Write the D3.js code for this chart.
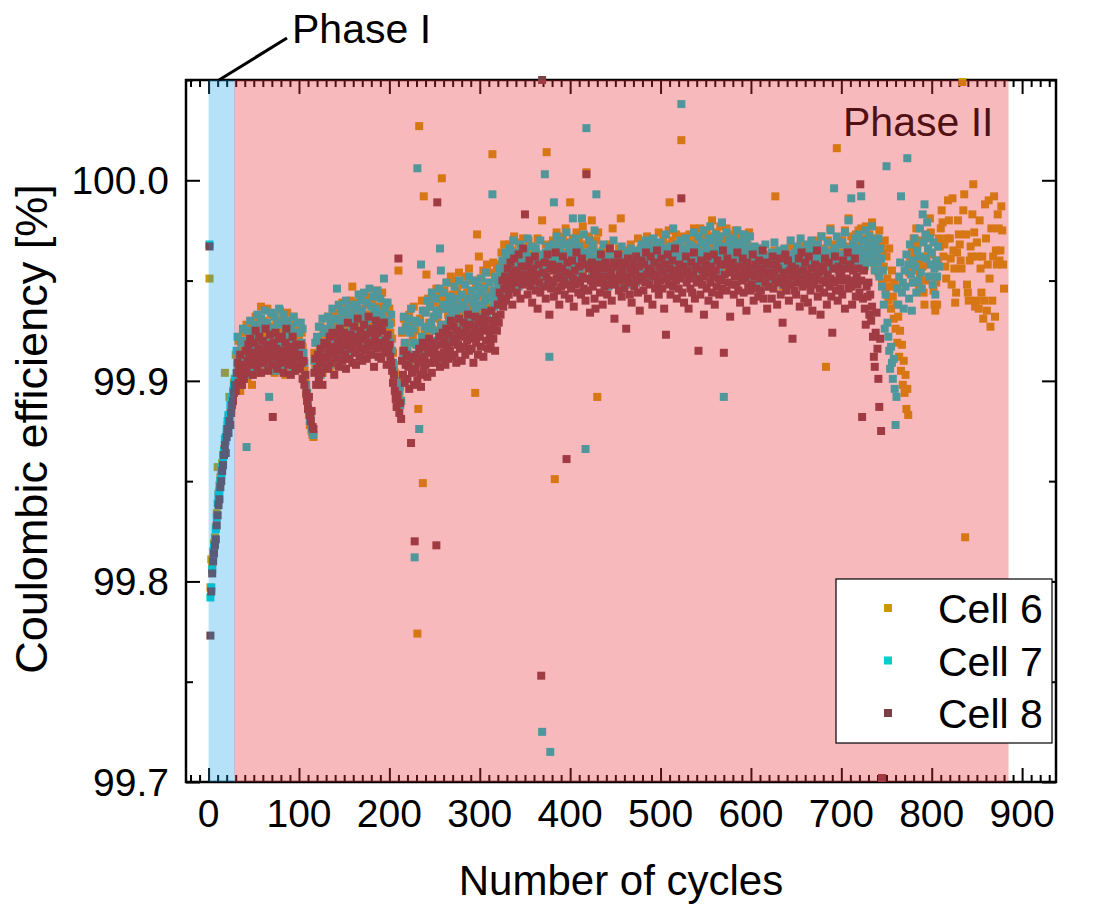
<!DOCTYPE html>
<html>
<head>
<meta charset="utf-8">
<script src="https://cdn.jsdelivr.net/npm/d3@7"></script>
<style>
  body { margin: 0; background: #fff; }
  text { font-family: "Liberation Sans", Arial, sans-serif; fill: #000; }
</style>
</head>
<body>
<div id="chart"></div>
<script>
// Coulombic efficiency per cycle, stored as (CE - 99.7 %) in units of 0.001 %.
// The first entry of each array is cycle 1, one entry per cycle after that.
const firstCycle = 1;
const ceBase = 99.7;

const cell6 = [
  251,97,111,108,115,119,122,127,134,157,144,148,152,154,159,163,166,204,170,174,178,182,192,184,188,191,194,199,201,
  213,199,208,220,204,195,215,210,224,202,
  207,219,228,201,215,210,226,213,198,222,
  225,209,232,214,220,204,229,218,237,211,
  216,230,207,224,213,236,221,208,227,219,
  233,212,223,204,218,230,210,226,215,235,
  222,209,231,217,226,203,220,234,212,225,
  214,228,205,221,232,211,219,226,207,223,
  220,228,212,224,217,210,205,199,193,190,
  186,183,178,181,175,173,172,214,206,219,
  208,221,200,216,227,211,204,223,215,209,
  225,211,232,217,206,228,219,213,234,221,
  216,229,208,235,224,214,231,220,239,226,
  232,218,227,211,236,223,215,240,226,247,
  221,234,214,239,229,218,232,225,243,220,
  236,223,231,215,242,227,233,219,238,225,
  222,240,230,217,235,226,245,221,233,237,
  231,218,244,228,223,239,226,234,216,230,
  236,224,229,221,214,208,204,199,195,200,
  255,193,197,190,224,215,231,218,227,210,
  226,213,233,219,207,228,222,237,211,225,
  218,74,186,327,231,215,240,149,292,224,
  235,253,222,241,229,218,237,226,244,232,
  239,225,246,231,220,243,236,228,301,241,
  227,245,238,222,249,233,240,229,252,236,
  243,231,250,238,226,245,234,254,229,241,
  233,248,240,227,252,236,244,231,256,239,
  245,230,250,236,241,194,247,273,233,262,
  236,251,243,229,255,240,247,234,258,242,
  249,237,254,244,313,259,241,251,238,256,
  247,258,252,243,264,255,249,268,257,261,
  255,263,250,268,258,247,265,257,272,253,
  262,251,258,269,254,264,249,260,271,256,
  250,266,258,253,270,259,248,263,256,267,
  258,249,264,255,271,257,251,262,254,280,
  256,263,252,268,314,255,261,266,250,259,
  264,270,257,151,262,274,259,266,253,268,
  261,255,272,264,258,276,263,252,269,260,
  289,266,258,271,262,255,268,274,257,263,
  270,259,265,253,277,262,256,268,304,261,
  257,272,264,259,280,254,266,261,252,270,
  192,274,256,262,250,258,265,253,261,248,
  259,255,263,250,268,257,252,276,260,254,
  249,262,256,253,266,251,281,258,247,263,
  257,252,265,259,248,261,255,268,253,260,
  264,256,250,262,258,271,254,259,266,252,
  261,268,255,263,258,272,260,253,266,259,
  255,264,270,257,262,253,268,261,274,258,
  266,259,253,271,262,257,268,254,263,275,
  289,264,258,270,261,255,267,273,259,264,
  268,257,263,320,260,272,255,266,261,270,
  258,265,273,262,256,269,260,276,264,257,
  271,262,267,259,276,264,270,258,273,266,
  263,275,260,268,272,257,266,280,262,269,
  267,259,274,264,270,261,277,258,266,272,
  262,270,257,276,265,260,273,263,268,256,
  271,264,259,275,262,268,257,272,265,261,
  266,273,258,264,270,255,268,262,274,260,
  257,263,251,260,266,254,261,248,259,264,
  253,260,266,249,258,255,263,250,262,256,
  259,254,248,262,256,251,265,292,257,260,
  252,258,264,255,261,247,256,263,253,259,
  262,256,251,258,267,253,260,255,263,250,
  258,264,256,262,253,268,259,255,266,261,
  255,262,267,257,264,251,260,269,256,263,
  265,258,253,262,270,256,264,254,272,260,
  257,266,261,207,263,270,258,264,276,261,
  265,259,268,262,256,316,263,257,270,264,
  261,270,264,258,275,262,267,259,281,265,
  263,272,260,269,264,257,273,266,261,275,
  268,259,276,265,271,262,258,277,264,269,
  262,273,266,260,279,264,270,256,271,265,
  261,254,275,259,268,249,264,257,270,245,
  262,251,240,266,247,236,255,242,231,249,
  226,238,219,232,212,225,205,218,198,210,
  194,203,186,196,183,254,262,258,266,249,
  271,263,255,276,268,259,247,253,261,270,
  257,244,238,250,262,273,266,258,281,274,
  263,252,245,238,235,249,238,260,271,267,
  276,285,279,262,268,257,251,271,290,280,
  271,261,248,291,265,256,239,244,264,280,
  273,268,260,256,349,285,293,122,273,248,
  244,240,260,267,262,283,298,274,237,240,
  269,262,236,280,256,244,262,231,240,288,
  271,235,258,290,251,227,276,240,262,292,
  232,265,258,283,276,260,265,287,275,258,
  246
];

const cell7 = [
  268,92,97,106,112,117,119,126,132,139,143,145,150,153,157,162,165,171,172,176,180,183,181,188,186,192,195,197,200,
  201,215,222,206,212,198,219,209,226,204,
  220,211,167,225,207,218,230,203,216,223,
  212,228,206,221,233,215,224,209,231,218,
  227,213,235,220,208,229,216,192,225,234,
  214,226,210,232,219,205,228,222,236,212,
  229,217,207,233,221,225,211,230,215,224,
  210,227,221,205,232,216,224,208,229,218,
  224,215,229,219,226,214,209,203,198,194,
  189,185,180,182,176,174,173,210,219,205,
  222,209,227,214,203,219,231,211,224,207,
  226,213,232,218,208,229,221,236,214,225,
  217,231,246,222,238,213,228,235,219,230,
  234,220,240,215,229,237,224,218,233,227,
  221,238,230,214,236,225,243,219,232,240,
  235,222,244,228,216,239,231,225,246,220,
  237,226,242,233,219,236,228,245,223,234,
  241,225,232,220,251,236,218,230,239,222,
  228,219,233,215,209,205,200,196,193,198,
  192,195,188,190,225,214,232,219,210,227,
  215,231,208,224,236,213,226,219,112,230,
  218,306,211,176,229,258,222,235,214,227,
  234,221,240,226,215,237,229,244,220,232,
  225,241,235,219,233,246,266,255,228,238,
  244,227,236,249,223,238,231,242,220,235,
  239,228,247,233,222,241,236,250,226,237,
  243,230,238,224,248,235,241,229,252,233,
  227,245,239,231,250,236,242,226,247,238,
  244,232,251,237,228,246,240,254,233,242,
  235,249,241,230,293,245,237,252,243,232,
  249,241,256,247,238,260,252,245,264,255,
  256,262,251,266,259,248,263,270,255,260,
  253,264,258,247,261,268,255,250,263,257,
  265,252,259,271,256,249,262,258,267,254,
  260,251,266,257,263,248,259,270,255,25,
  261,253,303,264,258,250,267,212,15,262,
  259,268,289,256,264,272,260,253,266,261,
  270,257,263,255,268,262,274,259,251,265,
  262,269,256,281,264,258,271,253,266,260,
  267,255,262,281,259,273,264,166,326,257,
  263,270,258,265,252,268,261,275,256,293,
  260,253,264,257,249,262,255,268,251,259,
  254,261,247,258,265,252,260,256,270,250,
  257,263,251,259,246,262,255,267,253,258,
  261,250,256,264,252,259,248,266,255,260,
  253,262,257,249,265,256,261,251,258,268,
  259,266,254,262,270,257,263,251,267,260,
  256,264,271,258,252,265,260,268,255,262,
  269,257,263,254,266,261,273,258,252,264,
  260,267,255,262,276,258,264,253,268,261,
  257,265,270,338,259,266,254,263,271,258,
  264,256,268,261,252,267,259,274,262,255,
  266,260,272,257,264,269,258,275,263,261,
  268,256,265,271,260,277,262,258,270,264,
  259,273,266,261,268,255,272,263,279,260,
  192,267,262,274,258,265,270,261,256,268,
  263,271,257,266,260,275,264,252,269,262,
  267,258,273,263,255,270,261,266,259,272,
  258,264,252,260,267,255,262,249,257,263,
  254,261,266,250,259,256,268,253,260,247,
  262,257,251,264,255,260,269,252,258,263,
  250,259,265,256,262,248,257,266,254,261,
  257,263,253,260,270,255,251,262,258,264,
  260,267,255,263,258,271,262,256,265,259,
  254,262,268,258,264,252,261,270,257,263,
  266,259,253,262,268,257,264,255,272,261,
  258,265,260,254,263,269,256,262,275,260,
  264,257,296,266,259,272,261,255,268,262,
  260,269,263,257,274,261,266,258,280,264,
  262,291,259,268,263,256,271,265,260,273,
  266,258,292,264,270,261,257,275,263,268,
  261,272,265,259,277,263,268,255,270,264,
  259,271,252,266,261,247,255,238,226,243,
  307,229,222,215,206,217,209,201,211,196,
  178,192,246,238,252,259,292,244,249,236,
  255,247,263,311,258,241,268,253,235,260,
  249,271,257,244,265,250,262,276,254,246,
  283,269,288,273,261,279,266,252,271,258,
  264,248,269,256,243,260,252,267,257
];

const cell8 = [
  267,73,95,104,110,114,118,121,128,133,138,141,147,150,155,158,163,168,164,172,176,174,180,178,184,188,190,194,198,
  195,204,209,199,206,213,203,198,208,201,
  207,215,204,210,218,212,221,208,214,203,
  211,219,225,214,207,216,222,210,204,213,
  220,209,215,226,218,211,205,217,223,214,
  208,182,219,212,224,216,206,213,221,209,
  215,222,210,204,213,219,226,214,208,217,
  211,203,216,222,209,214,205,218,212,207,
  213,206,218,209,201,210,198,203,194,190,
  186,192,183,180,185,177,176,204,211,198,
  206,213,201,209,216,204,198,211,219,207,
  212,218,206,214,222,209,217,224,213,203,
  216,223,211,219,207,226,215,221,210,218,
  224,213,206,220,229,217,211,223,216,209,
  219,227,214,208,222,231,218,212,225,216,
  210,221,228,215,223,211,219,232,217,224,
  213,226,218,207,221,230,216,224,212,227,
  219,211,225,217,229,214,220,208,223,215,
  218,212,209,205,199,203,195,191,187,193,
  261,184,189,181,210,203,215,199,208,213,
  201,207,196,212,169,204,211,198,120,206,
  213,200,209,216,203,197,211,219,205,212,
  208,217,202,214,221,209,215,204,219,212,
  216,209,118,289,213,222,207,218,211,224,
  214,220,208,226,217,211,223,215,230,212,
  219,227,213,221,209,225,218,231,216,222,
  210,224,229,217,213,226,220,233,215,223,
  228,216,221,209,226,232,219,224,213,229,
  222,217,231,225,212,227,234,220,226,216,
  230,223,218,235,226,221,229,215,232,225,
  238,229,244,233,241,250,237,246,252,240,
  248,256,243,251,259,246,238,253,261,249,
  255,244,250,263,252,241,257,248,266,253,
  283,249,257,243,252,260,247,254,239,256,
  250,262,245,253,236,258,249,244,53,350,
  254,247,259,241,252,263,250,233,256,246,
  258,249,242,255,264,251,245,257,238,252,
  247,256,262,250,243,254,161,259,248,241,
  253,246,260,251,237,255,248,264,250,244,
  257,249,243,261,252,246,258,240,303,251,
  245,256,234,250,259,247,253,241,236,255,
  249,258,252,244,263,250,238,256,247,259,
  252,243,257,248,266,254,240,251,259,231,
  248,257,251,263,245,253,259,242,255,250,
  246,258,226,252,261,249,243,256,239,253,
  259,247,255,262,250,244,257,235,252,260,
  251,245,258,249,264,253,241,256,248,262,
  255,238,252,259,246,253,265,249,243,257,
  250,261,246,254,236,258,223,251,263,248,
  256,243,252,260,247,255,266,250,241,254,
  246,258,251,291,244,257,239,253,262,249,
  255,236,251,246,259,244,253,264,241,257,
  249,256,215,251,243,260,248,255,233,252,
  258,246,262,240,254,249,257,244,252,263,
  238,255,247,260,251,243,258,250,246,265,
  214,253,258,245,261,249,254,232,256,248,
  259,243,252,256,248,264,245,253,239,257,
  250,261,244,254,251,235,259,247,256,245,
  253,248,263,240,252,258,246,255,242,260,
  251,245,256,265,241,253,249,259,236,254,
  247,258,252,241,262,246,254,250,258,238,
  256,249,261,243,251,229,254,248,263,245,
  251,260,240,255,248,257,221,252,245,256,
  243,254,249,261,237,251,264,247,255,241,
  259,250,253,239,262,248,245,256,235,252,
  248,258,251,265,242,254,246,233,257,250,
  255,244,261,249,238,253,259,247,251,242,
  224,256,249,262,245,250,240,257,253,246,
  254,243,260,250,236,256,251,264,246,249,
  258,247,238,255,250,261,242,252,248,256,
  244,298,250,182,241,255,236,228,247,242,
  249,233,243,230,237,222,212,207,224,234,
  216,201,187,221,175,2
];

const seriesNames = ["Cell 6", "Cell 7", "Cell 8"];
const seriesValues = [cell6, cell7, cell8];
const seriesColors = ["#cc9900", "#00cccc", "#7a4046"];

// cycle ranges of the two shaded phases
const phaseOne = [0, 28.6];
const phaseTwo = [28.6, 885];

const xMajor = [0, 100, 200, 300, 400, 500, 600, 700, 800, 900];
const xMinor = d3.range(-20, 935, 10).filter(d => d % 100 !== 0);
const yMajor = [99.7, 99.8, 99.9, 100.0];
const yMinor = [99.75, 99.85, 99.95, 100.05];

const W = 1094, H = 906;
const margin = {top: 80, right: 38, bottom: 124, left: 186};
const width = W - margin.left - margin.right,
      height = H - margin.top - margin.bottom;

const svg = d3.select("#chart").append("svg")
    .attr("width", W)
    .attr("height", H);

const g = svg.append("g")
    .attr("transform", `translate(${margin.left}, ${margin.top})`);

const x = d3.scaleLinear().domain([-25, 937.5]).range([0, width]);
const y = d3.scaleLinear().domain([99.7, 100.05]).range([height, 0]);

// inward ticks on all four sides
function ticks(axis, values, len, transform) {
  const a = g.append("g")
      .attr("transform", transform)
      .call(axis.tickValues(values).tickSize(-len).tickFormat(""));
  a.select(".domain").remove();
  a.selectAll("line").attr("stroke", "#000").attr("stroke-width", 2);
}
ticks(d3.axisBottom(x), xMajor, 14, `translate(0, ${height})`);
ticks(d3.axisBottom(x), xMinor, 7, `translate(0, ${height})`);
ticks(d3.axisTop(x), xMajor, 14, "translate(0, 0)");
ticks(d3.axisTop(x), xMinor, 7, "translate(0, 0)");
ticks(d3.axisLeft(y), yMajor, 14, "translate(0, 0)");
ticks(d3.axisLeft(y), yMinor, 7, "translate(0, 0)");
ticks(d3.axisRight(y), yMajor, 14, `translate(${width}, 0)`);
ticks(d3.axisRight(y), yMinor, 7, `translate(${width}, 0)`);

g.append("rect")
    .attr("width", width)
    .attr("height", height)
    .attr("fill", "none")
    .attr("stroke", "#000")
    .attr("stroke-width", 2.5);

// the scatter, cell 6 at the back, cell 8 in front
const ms = 8;
seriesValues.forEach((vals, k) => {
  const pts = vals.map((v, i) => ({cycle: firstCycle + i, ce: ceBase + v / 1000}));
  g.append("g").selectAll("rect")
      .data(pts)
      .join("rect")
      .attr("x", d => x(d.cycle) - ms / 2)
      .attr("y", d => y(d.ce) - ms / 2)
      .attr("width", ms)
      .attr("height", ms)
      .attr("fill", seriesColors[k]);
});

g.append("text")
    .attr("x", 843 - margin.left)
    .attr("y", 136 - margin.top)
    .style("font-size", "41px")
    .text("Phase II");

// translucent phase shading drawn over everything inside the frame
g.append("rect")
    .attr("x", x(phaseOne[0]))
    .attr("width", x(phaseOne[1]) - x(phaseOne[0]) + 0.6)
    .attr("y", 0)
    .attr("height", height)
    .attr("fill", "rgb(10,160,235)")
    .attr("fill-opacity", 0.3);

g.append("rect")
    .attr("x", x(phaseTwo[0]))
    .attr("width", x(phaseTwo[1]) - x(phaseTwo[0]))
    .attr("y", 0)
    .attr("height", height)
    .attr("fill", "rgb(235,50,62)")
    .attr("fill-opacity", 0.34);

// legend
const legend = g.append("g").attr("transform", `translate(${836 - margin.left}, ${579 - margin.top})`);
legend.append("rect")
    .attr("width", 216)
    .attr("height", 164)
    .attr("fill", "#fff")
    .attr("stroke", "#000")
    .attr("stroke-width", 1.2);
seriesNames.forEach((name, i) => {
  legend.append("rect")
      .attr("x", 52 - ms / 2)
      .attr("y", 29 + i * 52.5 - ms / 2)
      .attr("width", ms)
      .attr("height", ms)
      .attr("fill", seriesColors[i]);
  legend.append("text")
      .attr("x", 102)
      .attr("y", 44 + i * 52.5)
      .style("font-size", "41px")
      .text(name);
});

// axis labels
g.selectAll(".xlab")
    .data(xMajor)
    .join("text")
    .attr("class", "xlab")
    .attr("x", d => x(d))
    .attr("y", height + 45)
    .attr("text-anchor", "middle")
    .style("font-size", "39px")
    .text(d3.format("d"));

g.selectAll(".ylab")
    .data(yMajor)
    .join("text")
    .attr("class", "ylab")
    .attr("x", -17)
    .attr("y", d => y(d))
    .attr("dy", "0.36em")
    .attr("text-anchor", "end")
    .style("font-size", "39px")
    .text(d3.format(".1f"));

svg.append("text")
    .attr("x", margin.left + width / 2)
    .attr("y", 895)
    .attr("text-anchor", "middle")
    .style("font-size", "42px")
    .text("Number of cycles");

svg.append("text")
    .attr("transform", `translate(47, ${margin.top + height / 2 - 2}) rotate(-90)`)
    .attr("text-anchor", "middle")
    .style("font-size", "45px")
    .text("Coulombic efficiency [%]");

// Phase I callout above the frame
svg.append("line")
    .attr("x1", 219).attr("y1", 80)
    .attr("x2", 287).attr("y2", 38)
    .attr("stroke", "#000")
    .attr("stroke-width", 3);
svg.append("text")
    .attr("x", 292)
    .attr("y", 43)
    .style("font-size", "41px")
    .text("Phase I");
</script>
</body>
</html>
